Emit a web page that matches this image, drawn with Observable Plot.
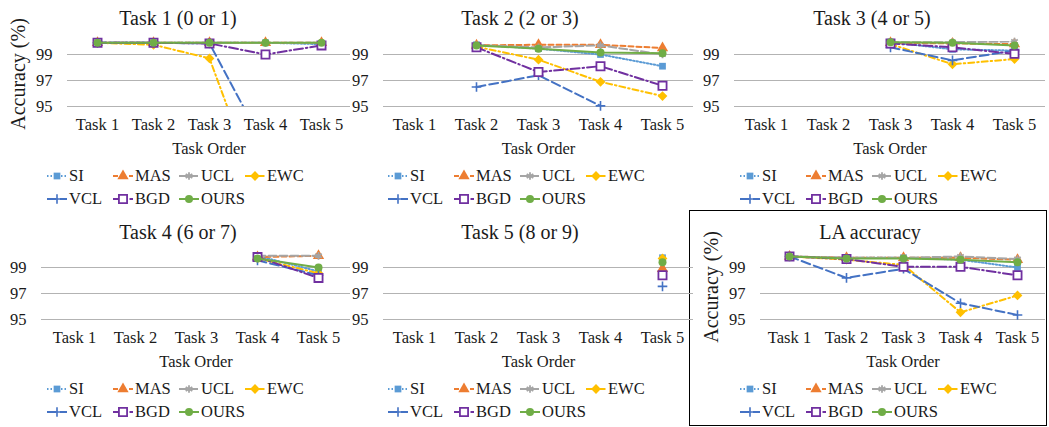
<!DOCTYPE html>
<html><head><meta charset="utf-8">
<script src="https://cdn.jsdelivr.net/npm/d3@7"></script>
<script src="https://cdn.jsdelivr.net/npm/@observablehq/plot@0.6"></script>
<style>
body{margin:0;background:#fff;width:1049px;height:427px;overflow:hidden;font-family:"Liberation Serif","Times New Roman",serif;color:#1a1a1a}
#root{position:relative;width:1049px;height:427px}
.plotwrap{position:absolute}
.title{position:absolute;font-size:20px;white-space:nowrap;transform:translate(-50%,-50%);line-height:1}
.legend{position:absolute;display:grid;grid-template-columns:repeat(4,66px);font-size:16.5px;line-height:1}
.item{display:flex;align-items:center;height:23px;white-space:nowrap}
.item svg{margin-right:2px;overflow:visible}
.box{position:absolute;left:689px;top:210px;width:356px;height:214px;border:1.5px solid #000}
</style>
</head><body><div id="root"><div class="box"></div></div>
<script>
const tasks = ["Task 1", "Task 2", "Task 3", "Task 4", "Task 5"];
const methods = ["SI", "MAS", "UCL", "EWC", "VCL", "BGD", "OURS"];
const yTicks = [95, 97, 99];

// Accuracy (%) of each task after training each task in order
const task1Acc = {
  SI:   [99.9, 99.9, 99.9, 99.9, 99.8],
  MAS:  [99.9, 99.9, 99.9, 99.9, 99.9],
  UCL:  [99.9, 99.9, 99.9, 99.9, 99.9],
  EWC:  [99.9, 99.75, 98.7, 87.0, 91.5],
  VCL:  [99.9, 99.9, 99.85, 91.8, 91.0],
  BGD:  [99.9, 99.9, 99.85, 99.0, 99.7],
  OURS: [99.9, 99.9, 99.9, 99.9, 99.9]
};
const task2Acc = {
  SI:   [null, 99.75, 99.45, 99.0, 98.1],
  MAS:  [null, 99.7, 99.75, 99.75, 99.5],
  UCL:  [null, 99.7, 99.55, 99.7, 99.0],
  EWC:  [null, 99.6, 98.6, 96.9, 95.8],
  VCL:  [null, 96.5, 97.4, 95.05, 90.5],
  BGD:  [null, 99.55, 97.65, 98.1, 96.6],
  OURS: [null, 99.7, 99.45, 99.15, 99.1]
};
const task3Acc = {
  SI:   [null, null, 99.95, 99.4, 99.3],
  MAS:  [null, null, 99.9, 99.85, 99.8],
  UCL:  [null, null, 99.95, 99.95, 100.0],
  EWC:  [null, null, 99.8, 98.25, 98.65],
  VCL:  [null, null, 99.55, 98.55, 99.3],
  BGD:  [null, null, 99.85, 99.55, 99.05],
  OURS: [null, null, 99.95, 99.9, 99.7]
};
const task4Acc = {
  SI:   [null, null, null, 99.9, 98.7],
  MAS:  [null, null, null, 99.8, 99.9],
  UCL:  [null, null, null, 99.9, 99.9],
  EWC:  [null, null, null, 99.7, 98.55],
  VCL:  [null, null, null, 99.55, 98.4],
  BGD:  [null, null, null, 99.8, 98.2],
  OURS: [null, null, null, 99.7, 99.0]
};
const task5Acc = {
  SI:   [null, null, null, null, 99.75],
  MAS:  [null, null, null, null, 98.9],
  UCL:  [null, null, null, null, 99.6],
  EWC:  [null, null, null, null, 99.7],
  VCL:  [null, null, null, null, 97.55],
  BGD:  [null, null, null, null, 98.4],
  OURS: [null, null, null, null, 99.4]
};
const laAcc = {
  SI:   [99.85, 99.75, 99.75, 99.6, 99.0],
  MAS:  [99.85, 99.75, 99.75, 99.75, 99.6],
  UCL:  [99.85, 99.75, 99.75, 99.85, 99.65],
  EWC:  [99.85, 99.6, 99.2, 95.55, 96.85],
  VCL:  [99.85, 98.2, 98.9, 96.25, 95.35],
  BGD:  [99.85, 99.65, 99.05, 99.05, 98.4],
  OURS: [99.85, 99.7, 99.7, 99.6, 99.4]
};

const styleOf = {
  SI:   {color: "#5B9BD5", dash: "1.5,2", symbol: "square", fill: "#5B9BD5", stroke: "none", r: 3.8, sw: 1.5},
  MAS:  {color: "#ED7D31", dash: "5,3", symbol: "triangle", fill: "#ED7D31", stroke: "none", r: 4.2, sw: 1.5},
  UCL:  {color: "#A5A5A5", dash: "8,3", symbol: "asterisk", fill: "none", stroke: "#A5A5A5", r: 3.6, sw: 1.8},
  EWC:  {color: "#FFC000", dash: "6,3,1.5,3", symbol: "diamond2", fill: "#FFC000", stroke: "none", r: 4.4, sw: 1.5},
  VCL:  {color: "#4472C4", dash: "9,4", symbol: "plus", fill: "none", stroke: "#4472C4", r: 3.2, sw: 1.6},
  BGD:  {color: "#7030A0", dash: "9,3,1.5,3", symbol: "square", fill: "white", stroke: "#7030A0", r: 4.6, sw: 1.8},
  OURS: {color: "#70AD47", dash: null, symbol: "circle", fill: "#70AD47", stroke: "none", r: 4, sw: 1.5}
};
const d3Symbols = {square: d3.symbolSquare, triangle: d3.symbolTriangle, asterisk: d3.symbolAsterisk,
  diamond2: d3.symbolDiamond2, plus: d3.symbolPlus, circle: d3.symbolCircle};

const panels = [
  {data: task1Acc, title: "Task 1 (0 or 1)", left: 0,   top: 0,   width: 350, mL: 67, mR: 0, yLabel: true,  titleX: 178, titleY: 17.5, legendLeft: 47},
  {data: task2Acc, title: "Task 2 (2 or 3)", left: 350, top: 0,   width: 350, mL: 33, mR: 7, yLabel: false, titleX: 520, titleY: 17.5, legendLeft: 388},
  {data: task3Acc, title: "Task 3 (4 or 5)", left: 700, top: 0,   width: 349, mL: 34, mR: 4, yLabel: false, titleX: 872, titleY: 17.5, legendLeft: 740},
  {data: task4Acc, title: "Task 4 (6 or 7)", left: 0,   top: 213, width: 350, mL: 41, mR: 0, yLabel: false, titleX: 178, titleY: 232, legendLeft: 47},
  {data: task5Acc, title: "Task 5 (8 or 9)", left: 350, top: 213, width: 350, mL: 33, mR: 7, yLabel: false, titleX: 520, titleY: 232, legendLeft: 388},
  {data: laAcc,    title: "LA accuracy",     left: 690, top: 213, width: 359, mL: 70, mR: 4, yLabel: true,  titleX: 870, titleY: 232, legendLeft: 740}
];

const root = document.getElementById("root");
const FONT = "'Liberation Serif', 'Times New Roman', serif";

function makePlot(p) {
  const rows = [];
  for (const m of methods) p.data[m].forEach((v, i) => rows.push({method: m, task: tasks[i], acc: v}));
  const marks = [
    Plot.gridY(yTicks, {stroke: "#b3b3b3", strokeOpacity: 1, strokeWidth: 1}),
    Plot.axisY(yTicks, {tickSize: 0, tickPadding: 15, fontSize: 16.5, label: null}),
    Plot.axisX({tickSize: 0, tickPadding: 12, fontSize: 16.5, label: "Task Order", labelAnchor: "center", labelOffset: 47, labelArrow: "none"})
  ];
  if (p.yLabel) marks.push(Plot.axisY({ticks: [], tickSize: 0, label: "Accuracy (%)", labelAnchor: "center", labelOffset: 57, fontSize: 20, labelArrow: "none"}));
  for (const m of methods) {
    const s = styleOf[m];
    const d = rows.filter(r => r.method === m);
    marks.push(Plot.line(d, {x: "task", y: "acc", stroke: s.color, strokeWidth: 2, strokeDasharray: s.dash, clip: true}));
    marks.push(Plot.dot(d.filter(r => r.acc != null && r.acc >= 95), {x: "task", y: "acc", symbol: () => s.symbol, r: s.r,
      fill: s.fill, stroke: s.stroke, strokeWidth: s.sw}));
  }
  return Plot.plot({
    width: p.width, height: 132, marginTop: 13, marginBottom: 54, marginLeft: p.mL, marginRight: p.mR,
    x: {type: "point", domain: tasks, padding: 0.5},
    y: {domain: [95, 100]},
    symbol: {type: "identity"},
    style: {fontFamily: FONT, fontSize: "16.5px", color: "#1a1a1a", background: "transparent", overflow: "visible"},
    marks
  });
}

function makeLegend(p) {
  const div = document.createElement("div");
  div.className = "legend";
  div.style.left = p.legendLeft + "px";
  div.style.top = (p.top + 176 - 11.5) + "px";
  for (const m of methods) {
    const s = styleOf[m];
    const item = document.createElement("div");
    item.className = "item";
    const svg = d3.create("svg").attr("width", 20).attr("height", 12);
    svg.append("line").attr("x1", 0).attr("x2", 20).attr("y1", 6).attr("y2", 6)
      .attr("stroke", s.color).attr("stroke-width", 2).attr("stroke-dasharray", s.dash);
    svg.append("path").attr("transform", "translate(10,6)")
      .attr("d", d3.symbol(d3Symbols[s.symbol], Math.PI * s.r * s.r)())
      .attr("fill", s.fill).attr("stroke", s.stroke).attr("stroke-width", s.sw);
    item.appendChild(svg.node());
    const t = document.createElement("span");
    t.textContent = m;
    item.appendChild(t);
    div.appendChild(item);
  }
  return div;
}

for (const p of panels) {
  const wrap = document.createElement("div");
  wrap.className = "plotwrap";
  wrap.style.left = p.left + "px";
  wrap.style.top = (p.top + 28) + "px";
  wrap.appendChild(makePlot(p));
  root.appendChild(wrap);
  const t = document.createElement("div");
  t.className = "title";
  t.style.left = p.titleX + "px";
  t.style.top = p.titleY + "px";
  t.textContent = p.title;
  root.appendChild(t);
  root.appendChild(makeLegend(p));
}
</script>
</body></html>
